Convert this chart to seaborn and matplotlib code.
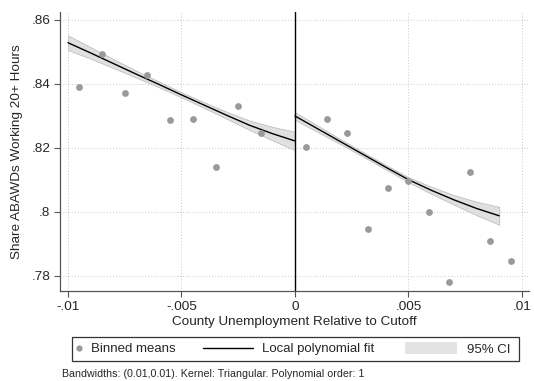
import numpy as np
import pandas as pd
import matplotlib
matplotlib.use("Agg")
import matplotlib.pyplot as plt
import matplotlib.patches as mpatches
from matplotlib.lines import Line2D
import seaborn as sns

# Binned means (left / right of cutoff)
bin_x_left = [-0.0095, -0.0085, -0.0075, -0.0065, -0.0055, -0.0045, -0.0035, -0.0025, -0.0015]
bin_y_left = [0.8391, 0.8495, 0.8372, 0.8427, 0.8288, 0.8290, 0.8140, 0.8331, 0.8246]
bin_x_right = [0.0005, 0.0014, 0.0023, 0.0032, 0.0041, 0.0050, 0.0059, 0.0068, 0.0077, 0.0086, 0.0095]
bin_y_right = [0.8202, 0.8292, 0.8247, 0.7947, 0.8074, 0.8097, 0.8001, 0.7781, 0.8125, 0.7910, 0.7846]

# Local polynomial fit and CI half width
fit_x_left = [-0.010, -0.009, -0.008, -0.007, -0.006, -0.005, -0.004, -0.003, -0.002, -0.001, 0.0]
fit_y_left = [0.8529, 0.8497, 0.8464, 0.8431, 0.8399, 0.8366, 0.8334, 0.8302, 0.8271, 0.8245, 0.8222]
ci_left = [0.0023, 0.0018, 0.0014, 0.0011, 0.0009, 0.0008, 0.0009, 0.0011, 0.0015, 0.0021, 0.0029]
fit_x_right = [0.0, 0.001, 0.002, 0.003, 0.004, 0.005, 0.006, 0.007, 0.008, 0.009]
fit_y_right = [0.8300, 0.8260, 0.8220, 0.8180, 0.8140, 0.8101, 0.8068, 0.8038, 0.8011, 0.7988]
ci_right = [0.0012, 0.0010, 0.0008, 0.0007, 0.0007, 0.0008, 0.0011, 0.0015, 0.0021, 0.0028]

xticks = [-0.01, -0.005, 0, 0.005, 0.01]
xticklabels = ["-.01", "-.005", "0", ".005", ".01"]
yticks = [0.78, 0.80, 0.82, 0.84, 0.86]
yticklabels = [".78", ".8", ".82", ".84", ".86"]

sns.set_style("white")
plt.rcParams["font.family"] = ["Liberation Sans", "DejaVu Sans"]

fig = plt.figure(figsize=(5.34, 3.81), dpi=100)
ax = fig.add_axes([60/534, 1-291/381, (529-60)/534, (291-12)/381])

for fx, fy, ci in [(fit_x_left, fit_y_left, ci_left), (fit_x_right, fit_y_right, ci_right)]:
    fx = np.array(fx); fy = np.array(fy); ci = np.array(ci)
    ax.fill_between(fx, fy - ci, fy + ci, color="#e0e0e0", edgecolor="#b8b8b8", lw=0.5, zorder=2)
    sns.lineplot(x=fx, y=fy, ax=ax, color="black", lw=1.0, zorder=3)

pts = pd.DataFrame({"x": bin_x_left + bin_x_right, "y": bin_y_left + bin_y_right})
sns.scatterplot(data=pts, x="x", y="y", ax=ax, color="#9a9a9a", s=24, linewidth=0, zorder=4)

ax.axvline(0, color="black", lw=1.0, zorder=5)

ax.set_xlim(-0.01035, 0.01031)
ax.set_ylim(0.7753, 0.8625)
ax.set_xticks(xticks)
ax.set_xticklabels(xticklabels, fontsize=9.7)
ax.set_yticks(yticks)
ax.set_yticklabels(yticklabels, fontsize=9.7)
ax.grid(True, color="#c8c8c8", linestyle=(0, (1, 2)), lw=0.7)
ax.tick_params(axis="both", which="major", direction="out", length=4, width=0.8,
               color="#555555", left=True, bottom=True, pad=3)
for side in ["top", "right"]:
    ax.spines[side].set_visible(False)
for side in ["left", "bottom"]:
    ax.spines[side].set_color("#555555")
    ax.spines[side].set_linewidth(0.9)

ax.set_xlabel("County Unemployment Relative to Cutoff", fontsize=9.7, labelpad=2)
ax.set_ylabel("Share ABAWDs Working 20+ Hours", fontsize=9.7, labelpad=6)

# legend frame and entries
fs = 9.5
frame = mpatches.Rectangle((72/534, 1-361/381), (519-72)/534, 24/381, transform=fig.transFigure,
                           fill=False, edgecolor="#333333", lw=0.9)
fig.patches.append(frame)
ly = 1 - 349/381
h1 = Line2D([], [], marker="o", color="#9a9a9a", linestyle="none", markersize=4.5, markeredgewidth=0)
h2 = Line2D([], [], color="black", lw=1.0)
h3 = mpatches.Patch(facecolor="#e3e3e3", edgecolor="none")
for h, lab, x0, hl, pad, hh in [(h1, "Binned means", 76/534, 0.45, 0.68, 0.7),
                                (h2, "Local polynomial fit", 203/534, 3.8, 0.66, 0.7),
                                (h3, "95% CI", 405/534, 3.94, 0.73, 1.06)]:
    fig.legend(handles=[h], labels=[lab], loc="center left", bbox_to_anchor=(x0, ly),
               frameon=False, fontsize=fs, handlelength=hl, handletextpad=pad,
               handleheight=hh, borderpad=0, borderaxespad=0, numpoints=1)

fig.text(62/534, 1-374/381, "Bandwidths: (0.01,0.01). Kernel: Triangular. Polynomial order: 1",
         fontsize=7.7, va="center", ha="left")

fig.savefig("out.png", dpi=100)
